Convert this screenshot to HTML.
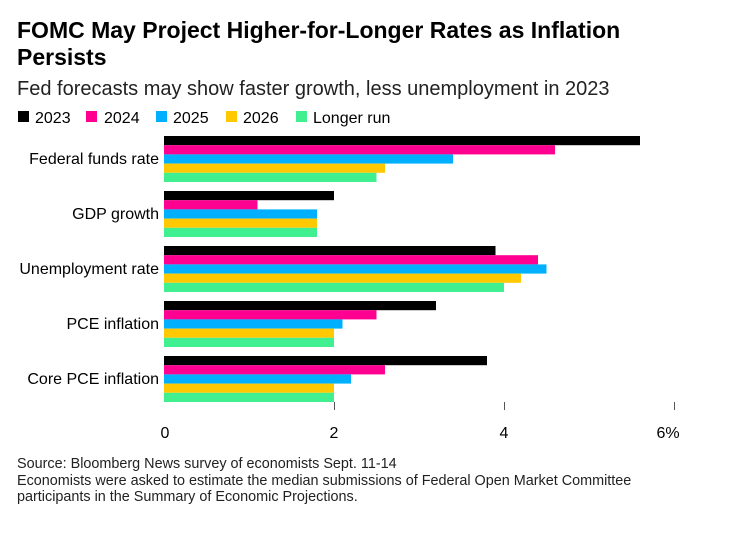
<!DOCTYPE html>
<html><head><meta charset="utf-8"><style>
body{margin:0;background:#fff;width:741px;height:529px;overflow:hidden;font-family:"Liberation Sans",sans-serif;}
</style></head><body>
<svg width="741" height="529" xmlns="http://www.w3.org/2000/svg" font-family="Liberation Sans, sans-serif">
<text x="17" y="38" font-size="23" font-weight="bold" fill="#000">FOMC May Project Higher-for-Longer Rates as Inflation</text>
<text x="17" y="65" font-size="23" font-weight="bold" fill="#000">Persists</text>
<text x="17" y="95" font-size="20" fill="#222">Fed forecasts may show faster growth, less unemployment in 2023</text>
<g font-size="16" fill="#000">
<rect x="18" y="111" width="11" height="11" fill="#000"/><text x="35" y="123">2023</text>
<rect x="86" y="111" width="11" height="11" fill="#ff0090"/><text x="104" y="123">2024</text>
<rect x="156" y="111" width="11" height="11" fill="#00b0ff"/><text x="173" y="123">2025</text>
<rect x="226" y="111" width="11" height="11" fill="#ffc800"/><text x="243" y="123">2026</text>
<rect x="296" y="111" width="11" height="11" fill="#40f090"/><text x="313" y="123">Longer run</text>
</g>
<g font-size="16" fill="#000" text-anchor="end">
<text x="159" y="164">Federal funds rate</text>
<text x="159" y="219">GDP growth</text>
<text x="159" y="274">Unemployment rate</text>
<text x="159" y="329">PCE inflation</text>
<text x="159" y="384">Core PCE inflation</text>
</g>
<g>
<rect x="164" y="136" width="476" height="9.2" fill="#000"/>
<rect x="164" y="145.2" width="391" height="9.2" fill="#ff0090"/>
<rect x="164" y="154.4" width="289" height="9.2" fill="#00b0ff"/>
<rect x="164" y="163.6" width="221" height="9.2" fill="#ffc800"/>
<rect x="164" y="172.8" width="212.5" height="9.2" fill="#40f090"/>
<rect x="164" y="191" width="170" height="9.2" fill="#000"/>
<rect x="164" y="200.2" width="93.5" height="9.2" fill="#ff0090"/>
<rect x="164" y="209.4" width="153" height="9.2" fill="#00b0ff"/>
<rect x="164" y="218.6" width="153" height="9.2" fill="#ffc800"/>
<rect x="164" y="227.8" width="153" height="9.2" fill="#40f090"/>
<rect x="164" y="246" width="331.5" height="9.2" fill="#000"/>
<rect x="164" y="255.2" width="374" height="9.2" fill="#ff0090"/>
<rect x="164" y="264.4" width="382.5" height="9.2" fill="#00b0ff"/>
<rect x="164" y="273.6" width="357" height="9.2" fill="#ffc800"/>
<rect x="164" y="282.8" width="340" height="9.2" fill="#40f090"/>
<rect x="164" y="301" width="272" height="9.2" fill="#000"/>
<rect x="164" y="310.2" width="212.5" height="9.2" fill="#ff0090"/>
<rect x="164" y="319.4" width="178.5" height="9.2" fill="#00b0ff"/>
<rect x="164" y="328.6" width="170" height="9.2" fill="#ffc800"/>
<rect x="164" y="337.8" width="170" height="9.2" fill="#40f090"/>
<rect x="164" y="356" width="323" height="9.2" fill="#000"/>
<rect x="164" y="365.2" width="221" height="9.2" fill="#ff0090"/>
<rect x="164" y="374.4" width="187" height="9.2" fill="#00b0ff"/>
<rect x="164" y="383.6" width="170" height="9.2" fill="#ffc800"/>
<rect x="164" y="392.8" width="170" height="9.2" fill="#40f090"/>
</g>
<g stroke="#555" stroke-width="1">
<line x1="334.5" y1="402" x2="334.5" y2="410"/>
<line x1="504.5" y1="402" x2="504.5" y2="410"/>
<line x1="674.5" y1="402" x2="674.5" y2="410"/>
</g>
<g font-size="16" fill="#000" text-anchor="middle">
<text x="165" y="438">0</text>
<text x="334" y="438">2</text>
<text x="504" y="438">4</text>
<text x="668" y="438">6%</text>
</g>
<g font-size="14.4" fill="#222">
<text x="17" y="468">Source: Bloomberg News survey of economists Sept. 11-14</text>
<text x="17" y="485">Economists were asked to estimate the median submissions of Federal Open Market Committee</text>
<text x="17" y="501">participants in the Summary of Economic Projections.</text>
</g>
</svg>
</body></html>
